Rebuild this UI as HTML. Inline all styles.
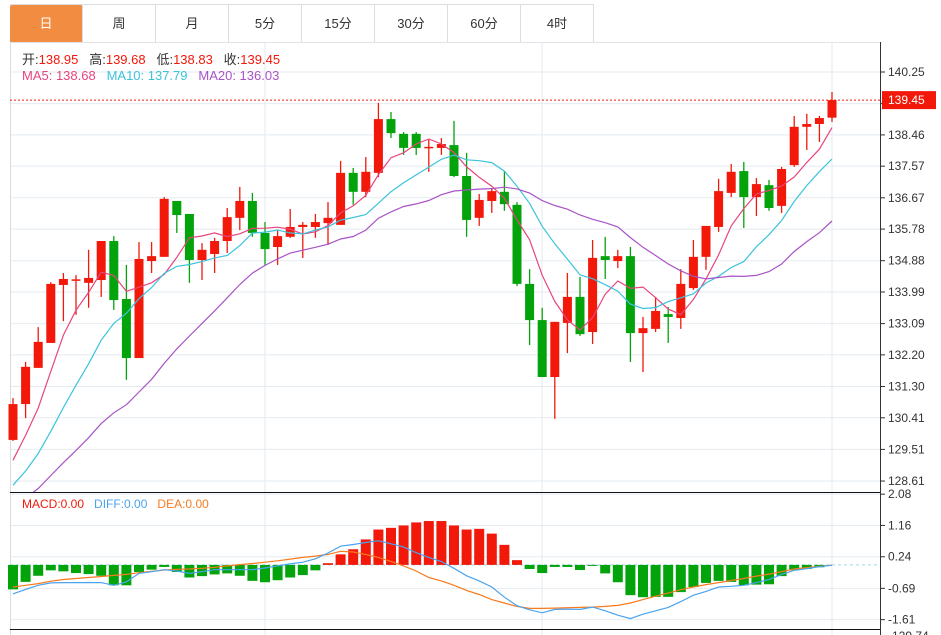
<!DOCTYPE html>
<html><head><meta charset="utf-8">
<style>
body{margin:0;width:941px;height:635px;overflow:hidden;background:#fff;font-family:"Liberation Sans","Noto Sans CJK SC",sans-serif;}
#tabs{position:absolute;left:10px;top:4px;height:38px;display:flex;border-top:1px solid #ddd;}
.tab{width:73px;height:38px;line-height:38px;text-align:center;font-size:13px;color:#333;border-right:1px solid #ddd;box-sizing:border-box;}
.tab.on{background:#f18c40;color:#fff;border-radius:2px;}
svg{position:absolute;left:0;top:0;}
</style></head><body>
<div id="tabs">
<div class="tab on">日</div>
<div class="tab">周</div>
<div class="tab">月</div>
<div class="tab">5分</div>
<div class="tab">15分</div>
<div class="tab">30分</div>
<div class="tab">60分</div>
<div class="tab">4时</div>
</div>
<svg id="c" width="941" height="635"></svg>
<script>
const opens=[129.78,130.80,131.83,132.54,134.19,134.33,134.25,134.33,135.44,133.79,132.11,134.87,134.99,136.58,136.21,134.90,135.07,135.44,136.10,136.58,135.67,135.27,135.56,135.84,135.84,135.95,135.90,137.38,136.84,137.38,138.91,138.49,138.49,138.09,138.09,138.17,137.29,136.10,136.58,136.84,136.47,134.22,133.19,131.57,133.11,133.85,132.85,135.01,134.87,135.01,132.82,132.94,133.36,133.25,134.10,134.99,135.84,136.81,137.43,136.69,137.03,136.44,137.60,138.69,138.77,138.95];
const highs=[130.97,132.00,132.99,134.27,134.53,134.47,135.19,135.44,135.58,134.76,135.41,135.41,136.69,136.58,136.21,135.38,135.53,136.38,136.98,136.81,135.98,135.75,136.35,135.98,136.21,136.55,137.72,137.52,137.83,139.37,139.11,138.54,138.54,138.32,138.37,138.86,137.95,136.78,136.95,137.43,136.55,134.64,133.54,133.14,134.53,134.42,135.47,135.56,135.19,135.27,133.28,133.85,133.56,134.64,135.47,135.87,137.21,137.63,137.69,137.23,137.18,137.55,139.00,139.06,139.00,139.68];
const lows=[129.75,130.40,131.83,132.54,133.16,133.34,133.54,133.85,133.48,131.49,132.11,134.53,134.99,135.67,134.25,134.33,134.53,135.10,135.75,135.56,134.76,134.76,135.53,134.96,135.53,135.33,135.90,136.47,136.69,137.26,138.37,137.89,137.89,137.41,137.89,137.26,135.56,135.87,136.24,136.30,134.16,132.48,131.57,130.38,132.25,132.74,132.51,134.36,134.67,132.00,131.71,132.85,132.54,132.94,134.05,134.62,135.70,136.69,135.81,136.15,136.30,136.24,137.55,138.03,138.26,138.83];
const closes=[130.80,131.86,132.57,134.22,134.36,134.35,134.39,135.44,133.76,132.11,134.93,135.01,136.64,136.18,134.90,135.19,135.44,136.12,136.58,135.67,135.21,135.58,135.84,135.90,135.98,136.10,137.38,136.84,137.41,138.91,138.51,138.09,138.09,138.12,138.20,137.29,136.04,136.61,136.86,136.49,134.22,133.19,131.57,133.14,133.85,132.79,134.96,134.90,135.01,132.82,132.96,133.45,133.28,134.22,134.99,135.87,136.86,137.41,136.69,137.06,136.38,137.49,138.69,138.77,138.94,139.45];
const priorCloses=[126.9,127.0,126.8,127.1,127.3,127.2,127.4,127.6,127.5,127.7,127.8,127.6,127.9,127.6,128.0,128.3,128.7,129.0,129.2];
const macdHist=[-0.72,-0.50,-0.32,-0.16,-0.19,-0.24,-0.27,-0.32,-0.60,-0.60,-0.21,-0.14,-0.06,-0.21,-0.37,-0.33,-0.28,-0.25,-0.32,-0.47,-0.51,-0.45,-0.37,-0.30,-0.16,0.05,0.31,0.46,0.75,1.04,1.09,1.16,1.25,1.29,1.29,1.16,1.04,1.06,0.92,0.59,0.14,-0.12,-0.24,-0.06,-0.06,-0.15,-0.03,-0.25,-0.51,-0.89,-0.95,-0.94,-0.94,-0.80,-0.65,-0.53,-0.47,-0.50,-0.60,-0.58,-0.57,-0.33,-0.16,-0.12,-0.07,0];
const diffLine=[-0.85,-0.72,-0.60,-0.53,-0.52,-0.52,-0.52,-0.52,-0.60,-0.50,-0.25,-0.20,-0.14,-0.18,-0.25,-0.20,-0.14,-0.14,-0.14,-0.14,-0.09,-0.03,0.03,0.08,0.18,0.35,0.55,0.60,0.66,0.71,0.62,0.53,0.36,0.22,0.10,-0.10,-0.32,-0.47,-0.65,-0.95,-1.20,-1.32,-1.41,-1.31,-1.30,-1.31,-1.24,-1.35,-1.48,-1.58,-1.45,-1.35,-1.25,-1.08,-0.89,-0.78,-0.65,-0.63,-0.60,-0.52,-0.43,-0.28,-0.16,-0.11,-0.05,-0.01];
const deaLine=[-0.65,-0.60,-0.55,-0.48,-0.43,-0.40,-0.37,-0.34,-0.31,-0.28,-0.23,-0.19,-0.15,-0.13,-0.12,-0.10,-0.07,-0.03,0.01,0.04,0.08,0.12,0.17,0.22,0.26,0.31,0.40,0.38,0.31,0.22,0.10,-0.03,-0.18,-0.37,-0.47,-0.60,-0.75,-0.87,-1.02,-1.12,-1.22,-1.28,-1.28,-1.27,-1.26,-1.25,-1.24,-1.22,-1.19,-1.12,-1.02,-0.92,-0.83,-0.73,-0.65,-0.58,-0.52,-0.46,-0.40,-0.33,-0.27,-0.20,-0.12,-0.08,-0.04,-0.01];
const priceTicks=["140.25","139.35","138.46","137.57","136.67","135.78","134.88","133.99","133.09","132.20","131.30","130.41","129.51","128.61"];
const macdTicks=["2.08","1.16","0.24","-0.69","-1.61"];

const svg=document.getElementById('c');
const NS='http://www.w3.org/2000/svg';
function mk(tag,attrs,parent){const e=document.createElementNS(NS,tag);for(const k in attrs)e.setAttribute(k,attrs[k]);(parent||svg).appendChild(e);return e;}
const X=i=>13+i*12.6;
const Y=p=>72+(140.25-p)*35.14;
const MY=v=>564.9-v*34;
const RED='#f2180a',GREEN='#03a30c';

// frame & grid
const grid=mk('g',{});


priceTicks.forEach(t=>{const y=Y(parseFloat(t));mk('line',{x1:10,x2:880,y1:y,y2:y,stroke:'#e4ebf0','stroke-width':1},grid);});
macdTicks.forEach(t=>{const y=MY(parseFloat(t));mk('line',{x1:10,x2:880,y1:y,y2:y,stroke:'#e4ebf0','stroke-width':1},grid);});
[265,542,832].forEach(x=>mk('line',{x1:x,x2:x,y1:42,y2:635,stroke:'#e4ebf0'},grid));
mk('line',{x1:10.5,x2:10.5,y1:42,y2:635,stroke:'#d8dde2'});
mk('line',{x1:10,x2:880,y1:42.5,y2:42.5,stroke:'#e0e4e8'});
mk('line',{x1:880.5,x2:880.5,y1:42,y2:635,stroke:'#333'});
mk('line',{x1:10,x2:880,y1:492.5,y2:492.5,stroke:'#111'});
mk('line',{x1:10,x2:880,y1:629.5,y2:629.5,stroke:'#111'});

// axis labels
const ax=mk('g',{'font-size':12,fill:'#333'});


priceTicks.forEach(t=>{const y=Y(parseFloat(t));mk('line',{x1:880,x2:885,y1:y,y2:y,stroke:'#333'},ax);const tx=mk('text',{x:888,y:y+4},ax);tx.textContent=t;});
const mx=mk('g',{'font-size':12,fill:'#333'});


macdTicks.forEach(t=>{const y=MY(parseFloat(t));mk('line',{x1:880,x2:885,y1:y,y2:y,stroke:'#333'},mx);const tx=mk('text',{x:888,y:y+4},mx);tx.textContent=t;});
const bt=mk('text',{x:888,y:640,'font-size':12,fill:'#333'});bt.textContent='-129.74';

// last price line
const lp=closes[closes.length-1];
mk('line',{x1:10,x2:880,y1:Y(lp),y2:Y(lp),stroke:RED,'stroke-dasharray':'2,2'});
const lb=mk('g',{});


mk('rect',{x:882,y:Y(lp)-9,width:54,height:18,fill:RED},lb);
const lt=mk('text',{x:888,y:Y(lp)+4,'font-size':12,fill:'#fff'},lb);lt.textContent=lp.toFixed(2);

// candles
const cg=mk('g',{});


closes.forEach((c,i)=>{
  const o=opens[i],col=c>=o?RED:GREEN,x=X(i);
  const g=mk('g',{},cg);
  
  
  mk('line',{x1:x,x2:x,y1:Y(highs[i]),y2:Y(lows[i]),stroke:col,'stroke-width':1.3},g);
  const t=Y(Math.max(o,c)),b=Y(Math.min(o,c));
  mk('rect',{x:x-4.5,y:t,width:9,height:Math.max(b-t,1.5),fill:col},g);
});

// moving averages
const all=priorCloses.concat(closes);
function ma(n){return closes.map((_,i)=>{const j=i+priorCloses.length;let s=0;for(let k=j-n+1;k<=j;k++)s+=all[k];return s/n;});}
function line(vals,fy,col,name){const d=vals.map((v,i)=>(i?'L':'M')+X(i).toFixed(1)+','+fy(v).toFixed(1)).join('');const p=mk('path',{d:d,fill:'none',stroke:col,'stroke-width':1.2});return p;}
const clip=mk('clipPath',{id:'mainclip'});mk('rect',{x:10,y:43,width:870,height:449},clip);
[[ma(5),'#e8457e','ma5-line'],[ma(10),'#3bc3dc','ma10-line'],[ma(20),'#a853c6','ma20-line']].forEach(a=>{line(a[0],Y,a[1],a[2]).setAttribute('clip-path','url(#mainclip)');});

// MACD
mk('line',{x1:10,x2:880,y1:MY(0),y2:MY(0),stroke:'#9fd6ea','stroke-dasharray':'3,3'});
const hg=mk('g',{});


macdHist.forEach((v,i)=>{const y0=MY(0),y1=MY(v);const r=mk('rect',{x:X(i)-5,y:Math.min(y0,y1),width:10,height:Math.abs(y1-y0),fill:v>=0?RED:GREEN},hg);});
line(deaLine,MY,'#f77a1f','dea-line');
line(diffLine,MY,'#4aa3ee','diff-line');
</script>
<div style="position:absolute;left:22px;top:49px;font-size:13px;color:#333">开:<span style="color:#f2180a">138.95</span>&nbsp;&nbsp; 高:<span style="color:#f2180a">139.68</span>&nbsp;&nbsp; 低:<span style="color:#f2180a">138.83</span>&nbsp;&nbsp; 收:<span style="color:#f2180a">139.45</span></div>
<div style="position:absolute;left:22px;top:68px;font-size:13px"><span style="color:#e8457e">MA5: 138.68</span>&nbsp;&nbsp; <span style="color:#3bc3dc">MA10: 137.79</span>&nbsp;&nbsp; <span style="color:#a853c6">MA20: 136.03</span></div>
<div style="position:absolute;left:22px;top:497px;font-size:12px"><span style="color:#f2180a">MACD:0.00</span>&nbsp;&nbsp; <span style="color:#4aa3ee">DIFF:0.00</span>&nbsp;&nbsp; <span style="color:#f77a1f">DEA:0.00</span></div>
</body></html>
